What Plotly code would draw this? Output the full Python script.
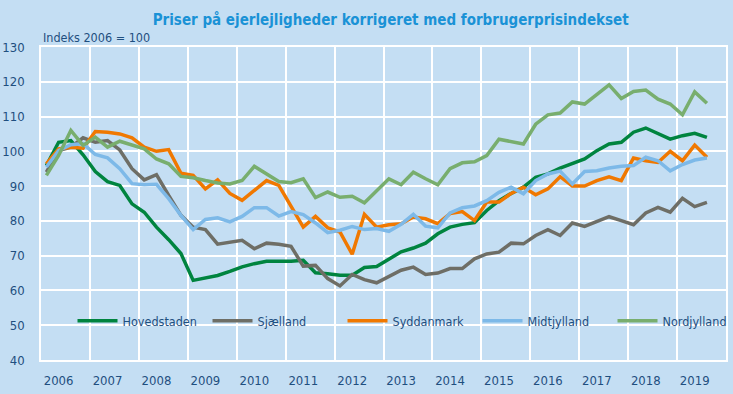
import plotly.graph_objects as go

# Quarterly observations, 2006 Q1 .. 2019 Q3
start_year = 2006
n_quarters = 55

hovedstaden = [95.9, 102.6, 103.1, 99.0, 94.2, 91.3, 90.2, 84.9, 82.5, 78.2, 74.6, 70.6,
               62.9, 63.6, 64.3, 65.5, 66.8, 67.7, 68.4, 68.4, 68.4, 68.7, 65.1, 64.8,
               64.4, 64.4, 66.6, 66.9, 68.9, 71.1, 72.2, 73.6, 76.3, 78.2, 79.0, 79.5,
               83.0, 85.8, 87.9, 89.7, 92.5, 93.5, 95.2, 96.4, 97.8, 100.2, 102.1, 102.6,
               105.5, 106.7, 105.0, 103.5, 104.5, 105.2, 104.0]
sjaelland = [94.0, 100.2, 101.2, 103.9, 102.6, 103.1, 100.4, 95.0, 91.8, 93.3, 87.3, 81.6,
             78.2, 77.5, 73.3, 73.8, 74.4, 72.0, 73.6, 73.3, 72.7, 67.0, 67.2, 63.4,
             61.3, 64.6, 63.1, 62.2, 64.1, 65.8, 66.7, 64.6, 65.0, 66.3, 66.3, 69.1,
             70.5, 71.0, 73.6, 73.4, 75.8, 77.5, 75.8, 79.4, 78.4, 79.9, 81.2, 80.1,
             78.9, 82.3, 83.9, 82.5, 86.5, 84.1, 85.3]
syddanmark = [96.4, 100.7, 101.2, 100.9, 105.7, 105.5, 105.0, 103.9, 101.2, 100.0, 100.5, 93.7,
              93.1, 89.2, 91.8, 87.9, 85.9, 88.8, 91.6, 90.2, 84.4, 78.2, 81.3, 78.0,
              76.8, 70.4, 81.9, 78.2, 78.9, 79.2, 81.1, 80.6, 79.2, 82.1, 82.7, 80.1,
              85.4, 85.4, 87.9, 89.7, 87.5, 89.2, 92.7, 90.0, 90.0, 91.6, 92.7, 91.6,
              98.1, 97.3, 96.8, 100.0, 97.3, 101.8, 98.3]
midtjylland = [95.5, 100.2, 101.9, 102.2, 99.1, 98.1, 95.0, 90.7, 90.4, 90.5, 86.4, 81.6,
               77.5, 80.4, 80.9, 79.7, 81.3, 83.8, 83.8, 81.4, 82.7, 81.8, 79.4, 76.6,
               77.3, 78.4, 77.5, 77.8, 77.0, 79.0, 81.9, 78.5, 78.0, 82.3, 83.8, 84.3,
               85.8, 88.2, 89.7, 87.8, 91.6, 93.5, 94.3, 90.6, 94.2, 94.4, 95.2, 95.7,
               95.9, 98.3, 97.3, 94.4, 96.2, 97.5, 98.1]
nordjylland = [93.1, 98.8, 106.0, 101.7, 104.1, 101.2, 102.9, 101.7, 100.7, 97.8, 96.4, 92.8,
               92.4, 91.6, 90.9, 90.6, 91.6, 95.7, 93.5, 91.3, 91.0, 92.1, 86.7, 88.3,
               86.8, 87.1, 85.2, 88.8, 92.1, 90.4, 94.0, 92.1, 90.4, 95.0, 96.7, 97.0,
               98.8, 103.5, 102.8, 102.1, 107.8, 110.5, 111.0, 114.2, 113.6, 116.2, 119.1, 115.2,
               117.2, 117.6, 115.0, 113.6, 110.5, 117.1, 113.8]

series_names = ["Hovedstaden", "Sjælland", "Syddanmark", "Midtjylland", "Nordjylland"]
series_values = [hovedstaden, sjaelland, syddanmark, midtjylland, nordjylland]
series_colors = ["#00843f", "#6e6e66", "#f07800", "#7db9e8", "#78ae6e"]

year_labels = [str(y) for y in range(2006, 2020)]
y_ticks = list(range(40, 131, 10))

x_vals = [start_year + 0.11 + 0.25 * i for i in range(n_quarters)]

NARROW = "DejaVu Sans Condensed, Liberation Sans Narrow, sans-serif"
NAVY = "#1f4f7f"
BG = "#c4def3"

fig = go.Figure()
for name, vals, col in zip(series_names, series_values, series_colors):
    fig.add_trace(go.Scatter(x=x_vals, y=vals, mode="lines", name=name,
                             line=dict(color=col, width=3.5)))

fig.update_layout(
    width=733, height=394,
    paper_bgcolor=BG, plot_bgcolor=BG,
    margin=dict(l=41, r=7, t=47, b=34, autoexpand=False),
    title=dict(text="<b>Priser på ejerlejligheder korrigeret med forbrugerprisindekset</b>",
               x=0.533, xref="container", xanchor="center",
               y=0.949, yref="container", yanchor="middle",
               font=dict(family=NARROW, size=15, color="#1a92d6")),
    showlegend=True,
    legend=dict(orientation="h", x=0.046, y=0.124, xanchor="left", yanchor="middle",
                bgcolor="rgba(0,0,0,0)", font=dict(family=NARROW, size=12.5, color=NAVY),
                itemwidth=40, entrywidth=80, entrywidthmode="pixels"),
    font=dict(family=NARROW, size=13, color=NAVY),
)

fig.update_xaxes(
    range=[2006, 2020], automargin=False,
    tickmode="array",
    tickvals=[int(y) + 0.36 for y in year_labels],
    ticktext=year_labels,
    showgrid=False, zeroline=False,
    ticks="", ticklabelstandoff=8,
    tickfont=dict(family=NARROW, size=13, color=NAVY),
    showline=True, linecolor="white", linewidth=1.5, mirror=True,
    minor=dict(tickvals=list(range(2006, 2021)), showgrid=True,
               gridcolor="white", gridwidth=1.5, ticks=""),
)
fig.update_yaxes(
    range=[40, 130], automargin=False,
    tickmode="array", tickvals=y_ticks,
    showgrid=True, gridcolor="white", gridwidth=1.5, zeroline=False,
    ticks="", ticklabelstandoff=12,
    tickfont=dict(family=NARROW, size=13, color=NAVY),
    showline=True, linecolor="white", linewidth=1.5, mirror=True,
)

fig.add_annotation(text="Indeks 2006 = 100", xref="paper", yref="paper",
                   x=0.0, y=1.031, xanchor="left", yanchor="middle", showarrow=False,
                   font=dict(family=NARROW, size=12.5, color=NAVY))

fig.write_html("out.html", config={"displayModeBar": False},
               post_script="document.body.style.margin='0';document.body.style.overflow='hidden';")
